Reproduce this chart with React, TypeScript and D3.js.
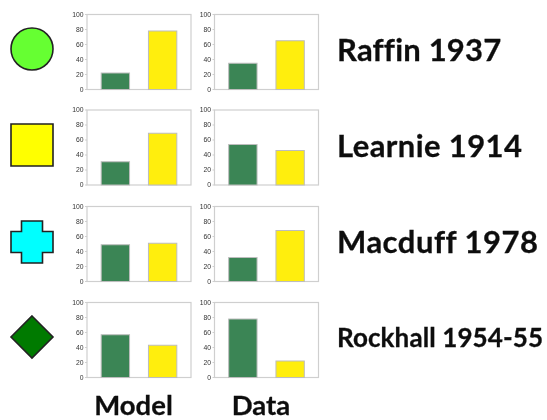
import React from "react";
import * as d3 from "d3";

const rowNames = ["Raffin 1937", "Learnie 1914", "Macduff 1978", "Rockhall 1954-55"];
const columnNames = ["Model", "Data"];
const seriesKeys = ["green", "yellow"];
const ticks = [0, 20, 40, 60, 80, 100];
const modelGreen = [22, 31, 49, 57];
const modelYellow = [78, 69, 51, 43];
const dataGreen = [35, 54, 32, 78];
const dataYellow = [65, 46, 68, 22];
const markerKinds = ["circle", "square", "cross", "diamond"];
const markerFills = ["#66ff33", "#ffff00", "#00ffff", "#007a00"];

const rowTops = [14.5, 110, 206.5, 302.5];
const colLefts = [87, 214.5];
const plotW = 104;
const plotH = 75;
const markerYs = [49, 145, 242, 337];
const labelYs = [60.7, 156.7, 252.7, 346.7];
const labelSizes = [31, 31, 31, 26];
const labelSpacing = [0.2, 0.4, 0.5, 0.1];
const axisGrey = "#cfcfcf";

function markerPath(kind: string, cx: number, cy: number): string {
  const r = 21;
  const a = 10.5;
  const p = d3.path();
  if (kind === "circle") {
    p.arc(cx, cy, r, 0, Math.PI * 2);
  } else if (kind === "square") {
    p.rect(cx - r, cy - r, r * 2, r * 2);
  } else if (kind === "diamond") {
    p.moveTo(cx, cy - r);
    p.lineTo(cx + r, cy);
    p.lineTo(cx, cy + r);
    p.lineTo(cx - r, cy);
  } else {
    const pts = [[-a, -r], [a, -r], [a, -a], [r, -a], [r, a], [a, a], [a, r], [-a, r], [-a, a], [-r, a], [-r, -a], [-a, -a]];
    pts.forEach(([x, y], i) => (i ? p.lineTo(cx + x, cy + y) : p.moveTo(cx + x, cy + y)));
  }
  p.closePath();
  return p.toString();
}

function Panel({ left, top, green, yellow }: { left: number; top: number; green: number; yellow: number }) {
  const x = d3.scaleBand<string>().domain(seriesKeys).range([left, left + plotW]).paddingInner(0.4).paddingOuter(0.3);
  const y = d3.scaleLinear().domain([0, 100]).range([top + plotH, top]);
  const bars = [
    { key: "green", v: green, fill: "#3b8555" },
    { key: "yellow", v: yellow, fill: "#ffee0a" },
  ];
  return (
    <g>
      <rect x={left} y={top} width={plotW} height={plotH} fill="#fff" stroke={axisGrey} strokeWidth={1.2} />
      {ticks.map((t) => (
        <g key={t}>
          <line x1={left - 2} x2={left} y1={y(t)} y2={y(t)} stroke={axisGrey} />
          <text x={left - 3.5} y={y(t) + 2.4} textAnchor="end" fontFamily="Liberation Sans" fontSize={6.8} fill="#333">
            {t}
          </text>
        </g>
      ))}
      {bars.map((b) => (
        <rect
          key={b.key}
          x={x(b.key)}
          y={y(b.v)}
          width={x.bandwidth()}
          height={y(0) - y(b.v)}
          fill={b.fill}
          stroke="#bdbdbd"
          strokeWidth={1}
        />
      ))}
    </g>
  );
}

export default function App() {
  return (
    <svg
      width={547}
      height={420}
      viewBox="0 0 547 420"
      style={{ position: "absolute", left: 0, top: 0, background: "#fff" }}
    >
      <defs>
        <filter id="soft" x="-5%" y="-5%" width="110%" height="110%">
          <feGaussianBlur stdDeviation="0.35" />
        </filter>
      </defs>
      <g filter="url(#soft)">
        {rowNames.map((name, i) => (
          <g key={name}>
            <path d={markerPath(markerKinds[i], 32, markerYs[i])} fill={markerFills[i]} stroke="#222" strokeWidth={1.6} />
            <Panel left={colLefts[0]} top={rowTops[i]} green={modelGreen[i]} yellow={modelYellow[i]} />
            <Panel left={colLefts[1]} top={rowTops[i]} green={dataGreen[i]} yellow={dataYellow[i]} />
            <text x={337} y={labelYs[i]} fontFamily="Lato" fontWeight={700} fontSize={labelSizes[i]} letterSpacing={labelSpacing[i]} fill="#111" stroke="#111" strokeWidth={0.3}>
              {name}
            </text>
          </g>
        ))}
        {columnNames.map((c, i) => (
          <text key={c} x={[133.5, 261][i]} y={415} textAnchor="middle" fontFamily="Lato" fontWeight={700} fontSize={27.5} fill="#111" stroke="#111" strokeWidth={0.3}>
            {c}
          </text>
        ))}
      </g>
    </svg>
  );
}
